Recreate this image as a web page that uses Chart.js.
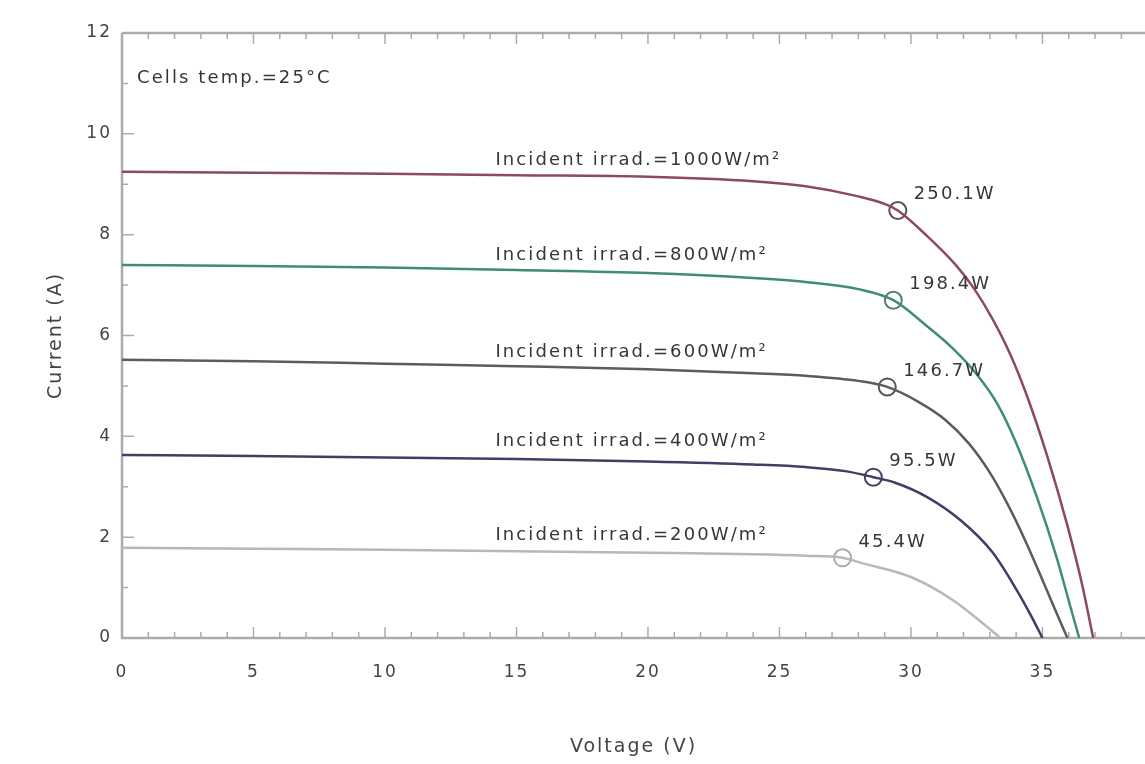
<!DOCTYPE html>
<html>
<head>
<meta charset="utf-8">
<script src="https://cdn.jsdelivr.net/npm/chart.js@4.4.1/dist/chart.umd.min.js"></script>
<style>
html, body { margin: 0; padding: 0; background: #fff; }
#wrap { width: 1145px; height: 764px; }
</style>
</head>
<body>
<div id="wrap"><canvas id="ivChart"></canvas></div>
<script>
// I-V curves of a PV module
const irradLabels = ['Incident irrad.=1000W/m²', 'Incident irrad.=800W/m²', 'Incident irrad.=600W/m²',
    'Incident irrad.=400W/m²', 'Incident irrad.=200W/m²'];
const powerLabels = ['250.1W', '198.4W', '146.7W', '95.5W', '45.4W'];
const tempLabel = 'Cells temp.=25°C';

const voltage1000 = [0, 5, 10, 15, 20, 24, 26, 28, 29, 29.5, 30.6, 31.7, 32.4, 33.1, 33.8, 34.4, 35.2, 35.95, 36.5, 36.93];
const current1000 = [9.25, 9.23, 9.21, 9.18, 9.15, 9.06, 8.96, 8.76, 8.61, 8.48, 7.98, 7.4, 6.93, 6.33, 5.6, 4.82, 3.58, 2.23, 1.08, 0];

const voltage800 = [0, 5, 10, 15, 20, 24, 26, 28, 29.33, 30.6, 31.6, 32.5, 33.3, 34.0, 34.8, 35.55, 36.1, 36.4];
const current800 = [7.4, 7.38, 7.35, 7.3, 7.24, 7.14, 7.06, 6.92, 6.7, 6.19, 5.74, 5.23, 4.63, 3.87, 2.78, 1.58, 0.55, 0];

const voltage600 = [0, 5, 10, 15, 20, 24, 26, 28, 29.1, 30.3, 31.3, 32.2, 33.0, 33.7, 34.4, 35.1, 35.6, 35.95];
const current600 = [5.52, 5.49, 5.44, 5.39, 5.33, 5.25, 5.2, 5.1, 4.98, 4.68, 4.33, 3.86, 3.28, 2.63, 1.87, 1.03, 0.42, 0];

const voltage400 = [0, 5, 10, 15, 20, 24, 26, 27.5, 28.57, 29.4, 30.6, 31.9, 33.1, 34.0, 34.6, 35.0];
const current400 = [3.63, 3.61, 3.58, 3.55, 3.5, 3.44, 3.39, 3.31, 3.19, 3.08, 2.8, 2.33, 1.7, 0.97, 0.41, 0];

const voltage200 = [0, 5, 10, 15, 20, 24, 26, 27.4, 28.1, 30.0, 31.6, 32.9, 33.4];
const current200 = [1.79, 1.77, 1.75, 1.72, 1.69, 1.66, 1.63, 1.59, 1.49, 1.21, 0.75, 0.22, 0];

// maximum power points
const mppVoltage = [29.5, 29.33, 29.1, 28.57, 27.4];
const mppCurrent = [8.48, 6.7, 4.98, 3.19, 1.59];

// where the irradiance captions sit (V, A)
const captionVoltage = [14.2, 14.2, 14.2, 14.2, 14.2];
const captionCurrent = [9.48, 7.6, 5.67, 3.91, 2.04];

const xTicks = [0, 5, 10, 15, 20, 25, 30, 35];
const yTicks = [0, 2, 4, 6, 8, 10, 12];

const curveColors = ['#8c4a5c', '#3f8c78', '#5c5c5c', '#3e3e66', '#b8b8b8'];
const markerColors = ['#5a5055', '#5a7a72', '#555555', '#444466', '#aaaaaa'];
const FONT = 'DejaVu Sans';

function toPoints(xs, ys) {
    return xs.map((v, i) => ({ x: v, y: ys[i] }));
}

const curves = [
    [voltage1000, current1000], [voltage800, current800], [voltage600, current600],
    [voltage400, current400], [voltage200, current200]
];

const datasets = curves.map((c, i) => ({
    label: irradLabels[i],
    data: toPoints(c[0], c[1]),
    showLine: true,
    borderColor: curveColors[i],
    borderWidth: 2.5,
    pointRadius: 0,
    cubicInterpolationMode: 'monotone',
    fill: false
}));

mppVoltage.forEach((v, i) => {
    datasets.push({
        label: powerLabels[i],
        data: [{ x: v, y: mppCurrent[i] }],
        showLine: false,
        pointRadius: 8.5,
        pointBorderWidth: 2,
        pointBackgroundColor: '#ffffff',
        pointBorderColor: markerColors[i]
    });
});

// frame with inward ticks, like the original plot
const framePlugin = {
    id: 'frame',
    beforeDraw(chart) {
        chart.ctx.letterSpacing = '2px';
    },
    beforeDatasetsDraw(chart) {
        const { ctx, chartArea: a, scales: { x, y } } = chart;
        ctx.save();
        ctx.strokeStyle = '#ababab';
        ctx.lineWidth = 2.5;
        ctx.beginPath();
        ctx.moveTo(a.left, a.top);
        ctx.lineTo(a.right, a.top);
        ctx.moveTo(a.left, a.top);
        ctx.lineTo(a.left, a.bottom);
        ctx.lineTo(a.right, a.bottom);
        ctx.stroke();

        ctx.lineWidth = 1.5;
        ctx.beginPath();
        for (let v = 0; v <= x.max; v += 1) {
            const px = x.getPixelForValue(v);
            const len = v % 5 === 0 ? 11 : 6;
            ctx.moveTo(px, a.bottom);
            ctx.lineTo(px, a.bottom - len);
            ctx.moveTo(px, a.top);
            ctx.lineTo(px, a.top + len);
        }
        for (let v = 0; v <= y.max; v += 1) {
            const py = y.getPixelForValue(v);
            const len = v % 2 === 0 ? 12 : 6;
            ctx.moveTo(a.left, py);
            ctx.lineTo(a.left + len, py);
        }
        ctx.stroke();
        ctx.restore();
    },
    afterDatasetsDraw(chart) {
        const { ctx, chartArea: a, scales: { x, y } } = chart;
        ctx.save();
        ctx.fillStyle = '#363636';
        ctx.font = '18px "' + FONT + '"';
        ctx.letterSpacing = '2.1px';
        ctx.textBaseline = 'middle';
        ctx.textAlign = 'left';
        ctx.fillText(tempLabel, a.left + 15, a.top + 45);
        captionVoltage.forEach((v, i) => {
            ctx.fillText(irradLabels[i], x.getPixelForValue(v), y.getPixelForValue(captionCurrent[i]));
        });
        mppVoltage.forEach((v, i) => {
            ctx.fillText(powerLabels[i], x.getPixelForValue(v) + 16, y.getPixelForValue(mppCurrent[i]) - 16);
        });
        ctx.restore();
    }
};

const ctx = document.getElementById('ivChart').getContext('2d');
new Chart(ctx, {
    type: 'scatter',
    data: { datasets: datasets },
    options: {
        responsive: true,
        maintainAspectRatio: false,
        animation: false,
        layout: { autoPadding: false, padding: { left: 45, top: 33, right: 0, bottom: 6 } },
        plugins: {
            legend: { display: false },
            tooltip: { enabled: false }
        },
        scales: {
            x: {
                type: 'linear',
                min: 0,
                max: 38.9,
                afterBuildTicks: (scale) => { scale.ticks = xTicks.map(v => ({ value: v })); },
                afterFit: (scale) => { scale.height = 120; },
                grid: { display: false, drawTicks: false },
                border: { display: false },
                ticks: { color: '#444', padding: 24, font: { family: FONT, size: 17 } },
                title: { display: true, text: 'Voltage (V)', color: '#444', padding: 0, font: { family: FONT, size: 19 } }
            },
            y: {
                min: 0,
                max: 12,
                afterBuildTicks: (scale) => { scale.ticks = yTicks.map(v => ({ value: v })); },
                afterFit: (scale) => { scale.width = 77; },
                grid: { display: false, drawTicks: false },
                border: { display: false },
                ticks: { color: '#444', padding: 10, font: { family: FONT, size: 17 } },
                title: { display: true, text: 'Current (A)', color: '#444', padding: 0, font: { family: FONT, size: 19 } }
            }
        }
    },
    plugins: [framePlugin]
});
</script>
</body>
</html>
